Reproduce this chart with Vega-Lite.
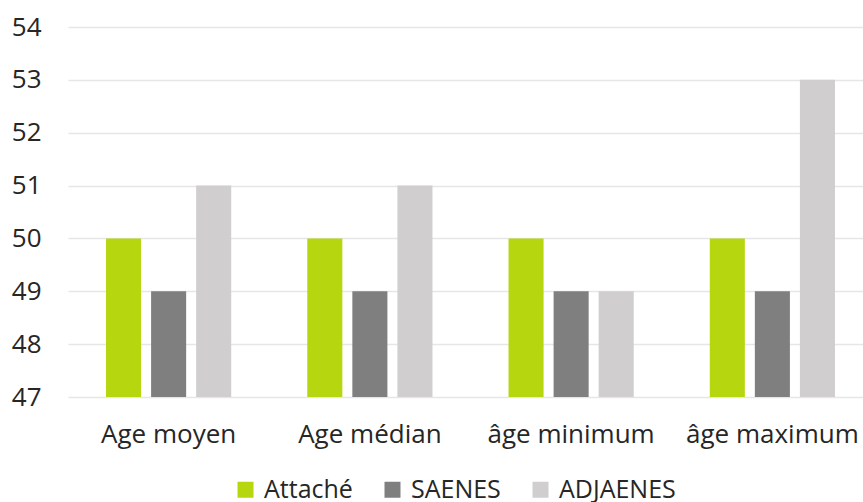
{
  "$schema": "https://vega.github.io/schema/vega-lite/v6.json",
  "autosize": "none",
  "width": 795,
  "height": 370,
  "padding": {"left": 68, "top": 27, "right": 0, "bottom": 105},
  "background": "white",
  "config": {
    "view": {"stroke": null},
    "font": "Open Sans",
    "axis": {"labelFont": "Open Sans", "labelColor": "#262626"}
  },
  "data": {
    "values": [
      {"stat": "Age moyen", "grade": "Attaché", "age": 50},
      {"stat": "Age moyen", "grade": "SAENES", "age": 49},
      {"stat": "Age moyen", "grade": "ADJAENES", "age": 51},
      {"stat": "Age médian", "grade": "Attaché", "age": 50},
      {"stat": "Age médian", "grade": "SAENES", "age": 49},
      {"stat": "Age médian", "grade": "ADJAENES", "age": 51},
      {"stat": "âge minimum", "grade": "Attaché", "age": 50},
      {"stat": "âge minimum", "grade": "SAENES", "age": 49},
      {"stat": "âge minimum", "grade": "ADJAENES", "age": 49},
      {"stat": "âge maximum", "grade": "Attaché", "age": 50},
      {"stat": "âge maximum", "grade": "SAENES", "age": 49},
      {"stat": "âge maximum", "grade": "ADJAENES", "age": 53}
    ]
  },
  "mark": {"type": "bar", "clip": true},
  "encoding": {
    "x": {
      "field": "stat",
      "type": "nominal",
      "sort": ["Age moyen", "Age médian", "âge minimum", "âge maximum"],
      "scale": {"paddingInner": 0, "paddingOuter": 0, "range": [0, 805]},
      "axis": {"title": null, "labelAngle": 0, "domain": false, "ticks": false, "labelPadding": 24, "labelFontSize": 26, "labelLimit": 0}
    },
    "xOffset": {
      "field": "grade",
      "type": "nominal",
      "sort": ["Attaché", "SAENES", "ADJAENES"],
      "scale": {"paddingInner": 0.222, "paddingOuter": 0.844}
    },
    "y": {
      "field": "age",
      "type": "quantitative",
      "scale": {"domain": [47, 54], "zero": false, "nice": false},
      "axis": {
        "title": null,
        "values": [47, 48, 49, 50, 51, 52, 53, 54],
        "domain": false,
        "ticks": false,
        "labelPadding": 27,
        "labelFontSize": 26,
        "gridColor": "#e6e6e6",
        "gridWidth": 1.5
      }
    },
    "color": {
      "field": "grade",
      "type": "nominal",
      "sort": ["Attaché", "SAENES", "ADJAENES"],
      "scale": {"domain": ["Attaché", "SAENES", "ADJAENES"], "range": ["#B6D60F", "#7F7F7F", "#D0CECE"]},
      "legend": {
        "title": null,
        "orient": "none",
        "direction": "horizontal",
        "legendX": 165,
        "legendY": 450,
        "symbolType": "square",
        "symbolSize": 256,
        "symbolStrokeWidth": 0,
        "labelFontSize": 25,
        "labelFont": "Open Sans",
        "labelColor": "#262626",
        "labelOffset": 6,
        "labelLimit": 0,
        "columnPadding": 27
      }
    }
  }
}
